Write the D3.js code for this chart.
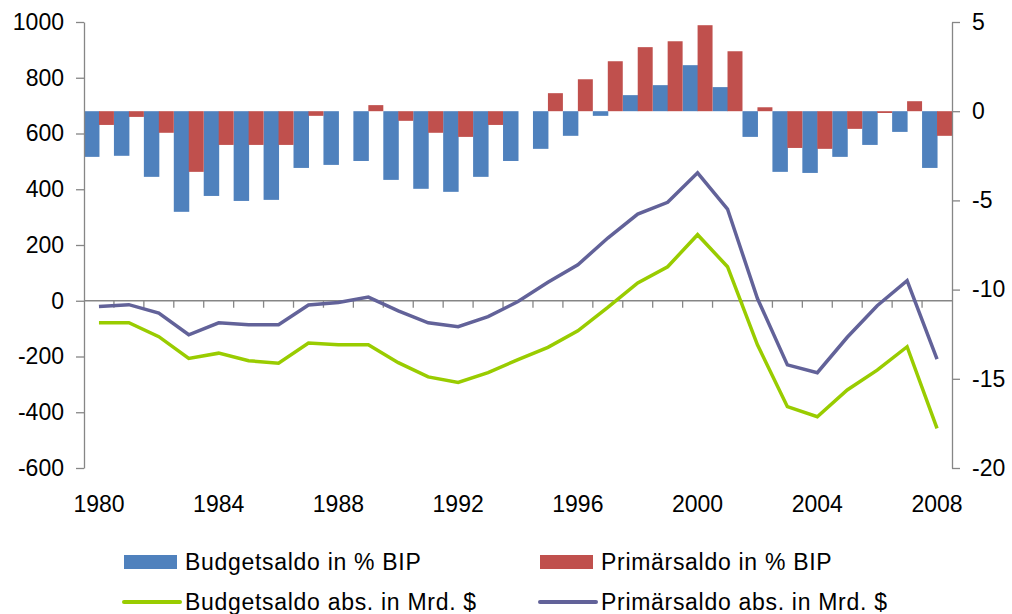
<!DOCTYPE html>
<html>
    <head>
        <meta charset="utf-8">
        <style>
            body { margin: 0; background: #fff; }
            text { font-family: "Liberation Sans", Arial, sans-serif; fill: #000; }
            .axis path, .axis line { stroke: #868686; stroke-width: 1.3px; }
        </style>
        <script src="https://d3js.org/d3.v7.min.js"></script>
    </head>
    <body>
        <svg width="1012" height="614"></svg>
        <script>
            var years = d3.range(1980, 2009);
            var xLabels = [1980, 1984, 1988, 1992, 1996, 2000, 2004, 2008];

            // Balken, rechte Achse (% BIP)
            var budgetPct = [-2.56, -2.5, -3.68, -5.64, -4.75, -5.03, -4.97, -3.18, -3.01, -2.79,
                             -3.85, -4.35, -4.52, -3.68, -2.79, -2.11, -1.38, -0.26, 0.9, 1.46,
                             2.58, 1.35, -1.44, -3.4, -3.46, -2.56, -1.89, -1.16, -3.18];
            var primaerPct = [-0.77, -0.32, -1.21, -3.4, -1.89, -1.89, -1.89, -0.26, 0, 0.34,
                              -0.54, -1.21, -1.44, -0.77, 0, 1.01, 1.79, 2.8, 3.59, 3.92,
                              4.82, 3.36, 0.22, -2.06, -2.11, -0.99, -0.1, 0.56, -1.38];

            // Linien, linke Achse (Mrd. $)
            var budgetAbs = [-79, -79, -129, -207, -188, -215, -224, -152, -158, -158,
                             -222, -273, -293, -258, -211, -167, -108, -24, 64, 122,
                             237, 122, -158, -380, -416, -320, -249, -165, -458];
            var primaerAbs = [-21, -14, -44, -122, -79, -86, -86, -15, -6, 13,
                              -36, -79, -93, -57, -3, 66, 129, 225, 311, 353,
                              459, 329, 8, -230, -258, -131, -18, 72, -209];

            var leftTicks = [-600, -400, -200, 0, 200, 400, 600, 800, 1000];
            var rightTicks = [-20, -15, -10, -5, 0, 5];

            var svg = d3.select("svg");
            var plotLeft = 84, plotRight = 952, plotTop = 22, plotBottom = 468;

            var x = d3.scaleBand().domain(years).range([plotLeft, plotRight]).padding(0);
            var yL = d3.scaleLinear().domain([-600, 1000]).range([plotBottom, plotTop]);
            var yR = d3.scaleLinear().domain([-20, 5]).range([plotBottom, plotTop]);
            var bw = x.bandwidth();
            var plain = function(d) { return String(d); };

            // Balken
            var bars = svg.append("g");
            bars.selectAll(".b1").data(years).enter().append("rect")
                .attr("x", function(d) { return x(d); })
                .attr("width", bw / 2 + 0.5)
                .attr("y", function(d, i) { return yR(Math.max(0, budgetPct[i])); })
                .attr("height", function(d, i) { return Math.abs(yR(budgetPct[i]) - yR(0)); })
                .attr("fill", "#4F81BD");
            bars.selectAll(".b2").data(years).enter().append("rect")
                .attr("x", function(d) { return x(d) + bw / 2; })
                .attr("width", bw / 2)
                .attr("y", function(d, i) { return yR(Math.max(0, primaerPct[i])); })
                .attr("height", function(d, i) { return Math.abs(yR(primaerPct[i]) - yR(0)); })
                .attr("fill", "#C0504D");

            // Achsen
            svg.append("g").attr("class", "axis")
                .attr("transform", "translate(" + plotLeft + ",0)")
                .call(d3.axisLeft(yL).tickValues(leftTicks).tickFormat(plain)
                    .tickSize(8).tickPadding(12).tickSizeOuter(0))
                .call(function(g) { g.selectAll("text").style("font-size", "23px"); });

            svg.append("g").attr("class", "axis")
                .attr("transform", "translate(" + plotRight + ",0)")
                .call(d3.axisRight(yR).tickValues(rightTicks).tickFormat(plain)
                    .tickSize(8).tickPadding(12).tickSizeOuter(0))
                .call(function(g) { g.selectAll("text").style("font-size", "23px"); });

            // Kategorieachse bei 0 der linken Achse
            var xa = svg.append("g").attr("class", "axis");
            xa.append("line").attr("x1", plotLeft).attr("x2", plotRight)
                .attr("y1", yL(0)).attr("y2", yL(0));
            xa.selectAll(".tk").data(years.slice(1)).enter().append("line")
                .attr("x1", function(d) { return x(d); })
                .attr("x2", function(d) { return x(d); })
                .attr("y1", yL(0)).attr("y2", yL(0) + 7);
            svg.append("g").selectAll("text").data(xLabels).enter().append("text")
                .attr("x", function(d) { return x(d) + bw / 2; })
                .attr("y", 512)
                .attr("text-anchor", "middle")
                .style("font-size", "23px")
                .text(function(d) { return d; });

            // Linien
            var line = d3.line()
                .x(function(d, i) { return x(years[i]) + bw / 2; })
                .y(function(d) { return yL(d); });
            svg.append("path").datum(budgetAbs).attr("d", line)
                .attr("fill", "none").attr("stroke", "#99CC00").attr("stroke-width", 3.5);
            svg.append("path").datum(primaerAbs).attr("d", line)
                .attr("fill", "none").attr("stroke", "#626299").attr("stroke-width", 3.5);

            // Legende
            var legend = [
                { name: "Budgetsaldo in % BIP", color: "#4F81BD", type: "rect", x: 124, y: 562 },
                { name: "Primärsaldo in % BIP", color: "#C0504D", type: "rect", x: 540, y: 562 },
                { name: "Budgetsaldo abs. in Mrd. $", color: "#99CC00", type: "line", x: 124, y: 602 },
                { name: "Primärsaldo abs. in Mrd. $", color: "#626299", type: "line", x: 540, y: 602 }
            ];
            var lg = svg.append("g").selectAll("g").data(legend).enter().append("g");
            lg.filter(function(d) { return d.type == "rect"; }).append("rect")
                .attr("x", function(d) { return d.x; })
                .attr("y", function(d) { return d.y - 7; })
                .attr("width", 53).attr("height", 14)
                .attr("fill", function(d) { return d.color; });
            lg.filter(function(d) { return d.type == "line"; }).append("line")
                .attr("x1", function(d) { return d.x; })
                .attr("x2", function(d) { return d.x + 56; })
                .attr("y1", function(d) { return d.y; })
                .attr("y2", function(d) { return d.y; })
                .attr("stroke", function(d) { return d.color; })
                .attr("stroke-width", 4)
                .attr("stroke-linecap", "round");
            lg.append("text")
                .attr("x", function(d) { return d.x + 61; })
                .attr("y", function(d) { return d.y + 8; })
                .style("font-size", "23px")
                .style("letter-spacing", "0.7px")
                .text(function(d) { return d.name; });
        </script>
    </body>
</html>
